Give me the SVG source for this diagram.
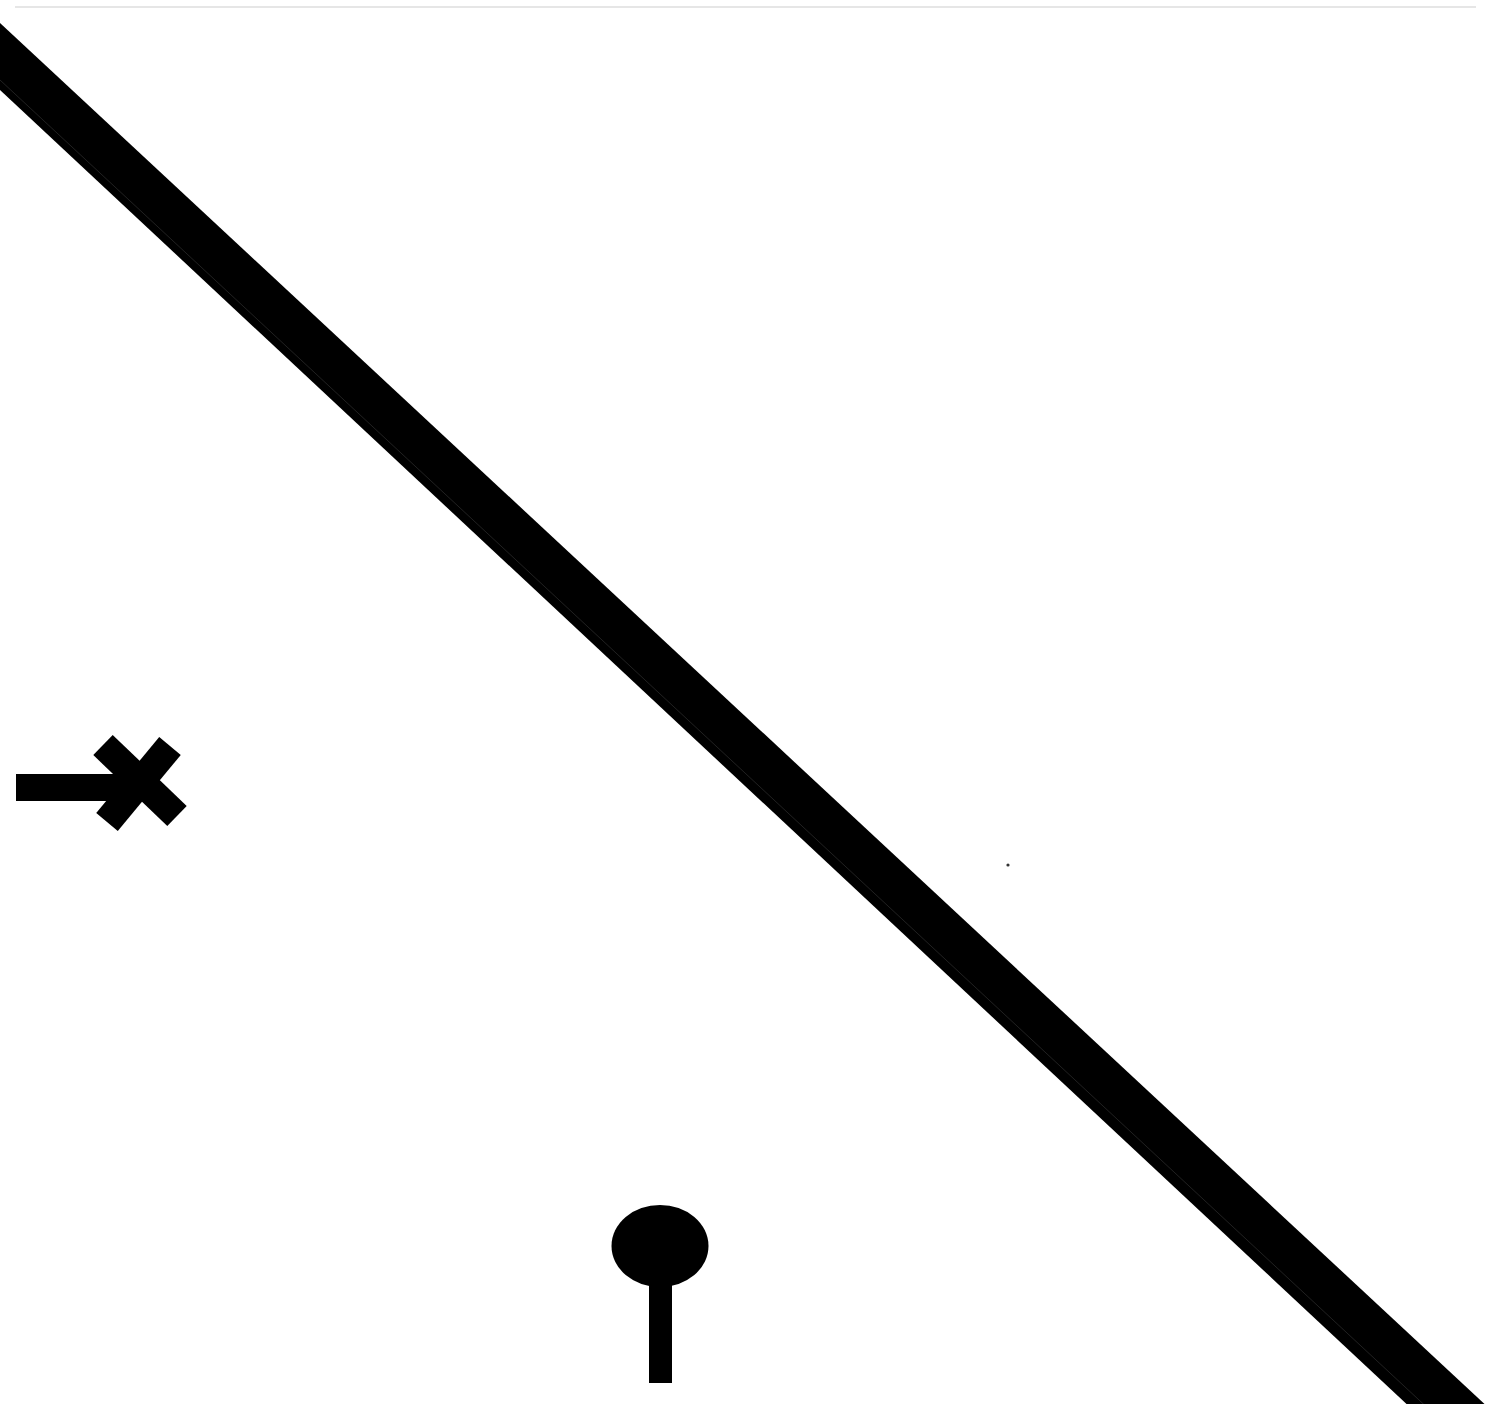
<svg xmlns="http://www.w3.org/2000/svg" width="1490" height="1404" viewBox="0 0 1490 1404">
<style>
.ink{fill:#000;stroke:none}
.bar{stroke:#000;stroke-linecap:butt;fill:none}
</style>
<rect width="1490" height="1404" fill="#fff"/>
<line x1="15" y1="7" x2="1476" y2="7" stroke="#e6e6e6" stroke-width="2"/>
<g id="connectors">
<polygon id="diagonal" class="ink" points="0,23 1520,1437 1520,1510 0,90"/>
<line x1="0" y1="80" x2="1490" y2="1466" stroke="#2a2a2a" stroke-width="0.8"/>
</g>
<g id="cross-end">
<rect class="ink" x="16" y="774" width="124" height="27"/>
<line class="bar" x1="103" y1="745" x2="177" y2="816" stroke-width="28"/>
<line class="bar" x1="170" y1="746" x2="107" y2="822" stroke-width="28"/>
</g>
<g id="ball-end">
<ellipse class="ink" cx="660" cy="1246" rx="48.5" ry="41"/>
<rect class="ink" x="649" y="1277" width="23" height="106"/>
</g>
<circle cx="1008" cy="865" r="1.6" fill="#333"/>
</svg>
